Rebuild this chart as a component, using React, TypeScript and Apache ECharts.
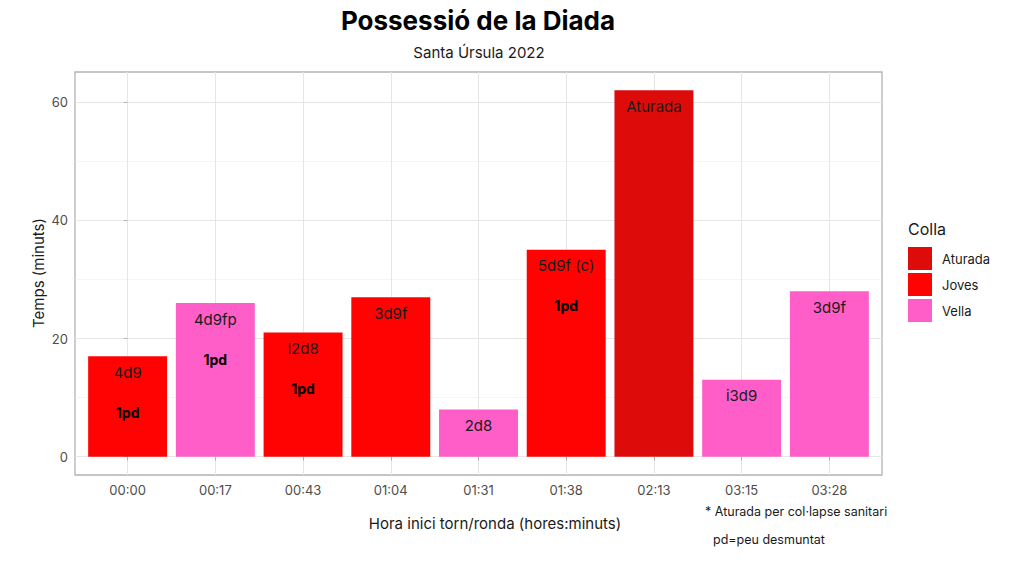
import React, { useEffect, useRef } from "react";
import * as echarts from "echarts";

const hours = ["00:00", "00:17", "00:43", "01:04", "01:31", "01:38", "02:13", "03:15", "03:28"];
const minutes = [17, 26, 21, 27, 8, 35, 62, 13, 28];
const colla = ["Joves", "Vella", "Joves", "Joves", "Vella", "Joves", "Aturada", "Vella", "Vella"];
const castells = ["4d9", "4d9fp", "l2d8", "3d9f", "2d8", "5d9f (c)", "Aturada", "i3d9", "3d9f"];
const notes = ["1pd", "1pd", "1pd", "", "", "1pd", "", "", ""];
const collaNames = ["Aturada", "Joves", "Vella"];
const collaColors = ["#DE0B0B", "#FF0303", "#FF5EC8"];
const yTicks = [0, 20, 40, 60];
const yMinorTicks = [10, 30, 50];
const yMin = -3.1;
const yMax = 65.1;
const xMin = -0.6;
const xMax = hours.length - 1 + 0.6;

const FONT = 'Inter, "Noto Sans", "DejaVu Sans", sans-serif';

export default function App() {
  const ref = useRef<HTMLDivElement>(null);
  useEffect(() => {
    document.body.style.margin = "0";
    const chart = echarts.init(ref.current!, null, { renderer: "svg" });
    const gridLeft = 75;
    const gridRight = 142;
    const plotWidth = 1024 - gridLeft - gridRight;
    const unit = plotWidth / (xMax - xMin);
    const idx = hours.map((_, i) => i);

    const series = collaNames.map((name, k) => ({
      name,
      type: "bar",
      barWidth: unit * 0.9,
      barGap: "-100%",
      itemStyle: { color: collaColors[k] },
      data: idx.filter((i) => colla[i] === name).map((i) => [i, minutes[i]]),
      label: {
        show: true,
        position: "insideTop",
        distance: 6,
        fontFamily: FONT,
        fontSize: 15,
        lineHeight: 20,
        color: "#1A1A1A",
        formatter: (p: any) => {
          const i = p.data[0];
          return notes[i] ? `${castells[i]}\n\n{b|${notes[i]}}` : castells[i];
        },
        rich: {
          b: { fontFamily: FONT, fontWeight: "bold", fontSize: 14, lineHeight: 20, color: "#000" },
        },
      },
    }));

    chart.setOption({
      animation: false,
      textStyle: { fontFamily: FONT },
      grid: {
        left: gridLeft,
        right: gridRight,
        top: 72,
        bottom: 108,
        show: true,
        borderColor: "#B3B3B3",
        borderWidth: 1.3,
        backgroundColor: "transparent",
      },
      xAxis: {
        type: "value",
        min: xMin,
        max: xMax,
        axisLine: { show: false },
        axisTick: { show: true, length: 4, customValues: idx, lineStyle: { color: "#B3B3B3" } },
        axisLabel: {
          customValues: idx,
          formatter: (v: number) => hours[Math.round(v)] ?? "",
          color: "#4D4D4D",
          fontSize: 13,
          margin: 8,
          fontFamily: FONT,
        },
        splitLine: { show: true, lineStyle: { color: "#E6E6E6", width: 1 } },
      },
      yAxis: [
        {
          type: "value",
          min: yMin,
          max: yMax,
          axisLine: { show: false },
          axisTick: { show: true, length: 4, customValues: yTicks, lineStyle: { color: "#B3B3B3" } },
          axisLabel: { customValues: yTicks, color: "#4D4D4D", fontSize: 13, margin: 7, fontFamily: FONT },
          splitLine: { show: true, lineStyle: { color: "#E6E6E6", width: 1 } },
        },
        {
          type: "value",
          min: yMin,
          max: yMax,
          position: "left",
          axisLine: { show: false },
          axisTick: { show: false, customValues: yMinorTicks },
          axisLabel: { show: false },
          splitLine: { show: true, lineStyle: { color: "#EFEFEF", width: 0.6 } },
        },
      ],
      legend: {
        orient: "vertical",
        left: 903,
        top: 242,
        itemWidth: 24,
        itemHeight: 23,
        itemGap: 3,
        icon: "rect",
        data: collaNames,
        textStyle: { fontSize: 13, color: "#1A1A1A", fontFamily: FONT, padding: [0, 0, 0, 5] },
      },
      graphic: [
        {
          type: "text",
          x: 478,
          y: 20,
          style: {
            text: "Possessió de la Diada",
            font: `bold 26px ${FONT}`,
            fill: "#000",
            align: "center",
            verticalAlign: "middle",
          },
        },
        {
          type: "text",
          x: 479,
          y: 52,
          style: {
            text: "Santa Úrsula 2022",
            font: `15px ${FONT}`,
            fill: "#1A1A1A",
            align: "center",
            verticalAlign: "middle",
          },
        },
        {
          type: "text",
          x: 495,
          y: 523,
          style: {
            text: "Hora inici torn/ronda (hores:minuts)",
            font: `15px ${FONT}`,
            fill: "#1A1A1A",
            align: "center",
            verticalAlign: "middle",
          },
        },
        {
          type: "text",
          x: 38,
          y: 273,
          rotation: Math.PI / 2,
          style: {
            text: "Temps (minuts)",
            font: `15px ${FONT}`,
            fill: "#1A1A1A",
            align: "center",
            verticalAlign: "middle",
          },
        },
        {
          type: "text",
          x: 908,
          y: 229,
          style: {
            text: "Colla",
            font: `16px ${FONT}`,
            fill: "#1A1A1A",
            align: "left",
            verticalAlign: "middle",
          },
        },
        {
          type: "text",
          x: 705,
          y: 511,
          style: {
            text: "* Aturada per col·lapse sanitari",
            font: `12.5px ${FONT}`,
            fill: "#1A1A1A",
            align: "left",
            verticalAlign: "middle",
          },
        },
        {
          type: "text",
          x: 713,
          y: 539,
          style: {
            text: "pd=peu desmuntat",
            font: `12.5px ${FONT}`,
            fill: "#1A1A1A",
            align: "left",
            verticalAlign: "middle",
          },
        },
      ],
      series,
    });
    return () => chart.dispose();
  }, []);
  return <div ref={ref} style={{ width: 1024, height: 583 }} />;
}
